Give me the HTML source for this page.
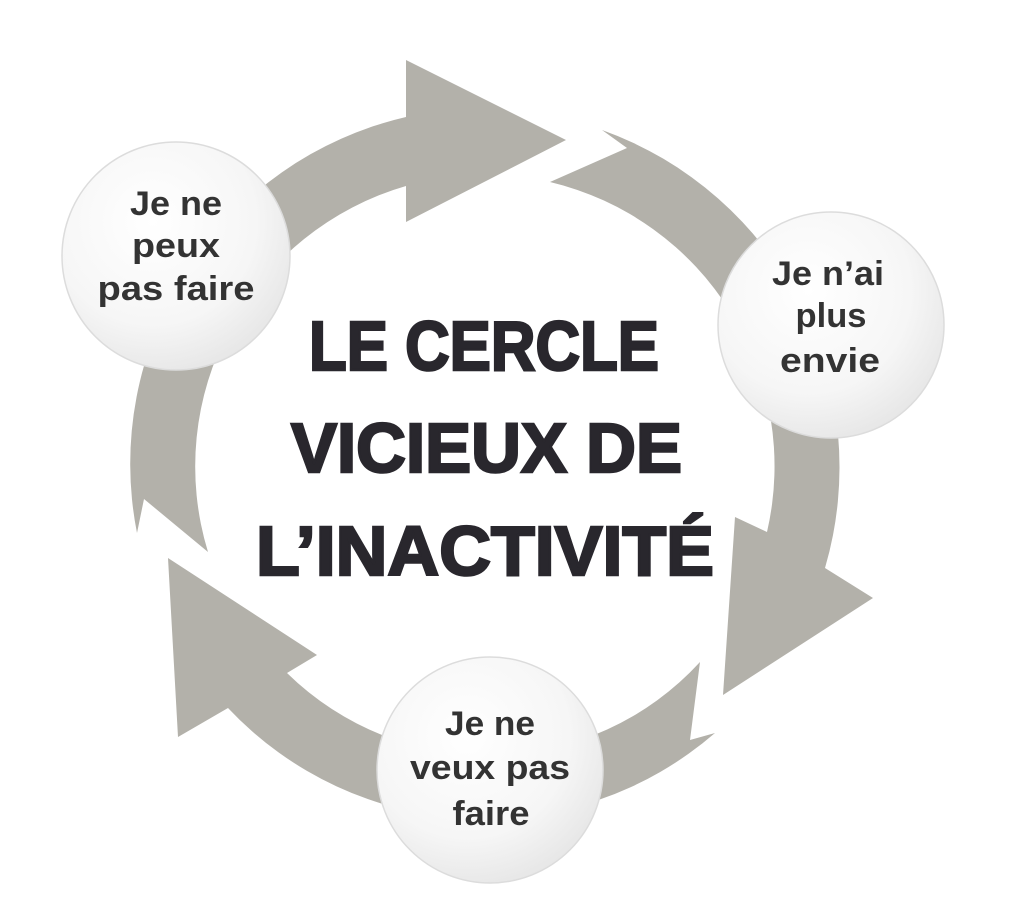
<!DOCTYPE html>
<html><head><meta charset="utf-8"><style>
html,body{margin:0;padding:0;background:#fff;}
svg{display:block}
</style></head><body>
<svg width="1028" height="924" viewBox="0 0 1028 924" xmlns="http://www.w3.org/2000/svg">
<defs>
<radialGradient id="g" cx="0.4" cy="0.35" r="0.75">
<stop offset="0" stop-color="#ffffff"/><stop offset="0.6" stop-color="#f6f6f6"/><stop offset="1" stop-color="#e2e2e2"/>
</radialGradient>
</defs>
<g fill="#b3b1aa">
<path d="M137,533 A356,356 0 0 1 406,117 L406,60 L566,140 L406,222 L406,186 A292,292 0 0 0 208,552 L144,499 Z"/>
<path d="M602,130 A358,358 0 0 1 825,568 L873,598 L723,695 L735,517 L767,532 A292,292 0 0 0 550,182 L627,148 Z"/>
<path d="M715,733 A352,352 0 0 1 228,708 L178,737 L168,558 L317,655 L287,673 A287,287 0 0 0 700,662 L690,740 Z"/>
</g>
<g stroke="#dcdcdc" stroke-width="1.5" fill="url(#g)">
<circle cx="176" cy="256" r="114"/>
<circle cx="831" cy="325" r="113"/>
<circle cx="490" cy="770" r="113"/>
</g>
<g font-family="Liberation Sans, sans-serif" font-weight="bold" font-size="34" fill="#333" text-anchor="middle" lengthAdjust="spacingAndGlyphs">
<text x="176" y="215" textLength="92" lengthAdjust="spacingAndGlyphs">Je ne</text>
<text x="176" y="257" textLength="88" lengthAdjust="spacingAndGlyphs">peux</text>
<text x="176" y="300" textLength="157" lengthAdjust="spacingAndGlyphs">pas faire</text>
<text x="828" y="285" textLength="112" lengthAdjust="spacingAndGlyphs">Je n’ai</text>
<text x="831" y="327" textLength="71" lengthAdjust="spacingAndGlyphs">plus</text>
<text x="830" y="372" textLength="100" lengthAdjust="spacingAndGlyphs">envie</text>
<text x="490" y="735" textLength="90" lengthAdjust="spacingAndGlyphs">Je ne</text>
<text x="490" y="779" textLength="160" lengthAdjust="spacingAndGlyphs">veux pas</text>
<text x="491" y="825" textLength="77" lengthAdjust="spacingAndGlyphs">faire</text>
</g>
<g font-family="Liberation Sans, sans-serif" font-weight="bold" font-size="70" fill="#29272d" stroke="#29272d" stroke-width="2.5">
<text x="309" y="370" textLength="350" lengthAdjust="spacingAndGlyphs">LE CERCLE</text>
<text x="291" y="472" textLength="391" lengthAdjust="spacingAndGlyphs">VICIEUX DE</text>
<text x="256" y="575" textLength="458" lengthAdjust="spacingAndGlyphs">L’INACTIVITÉ</text>
</g>
</svg>
</body></html>
